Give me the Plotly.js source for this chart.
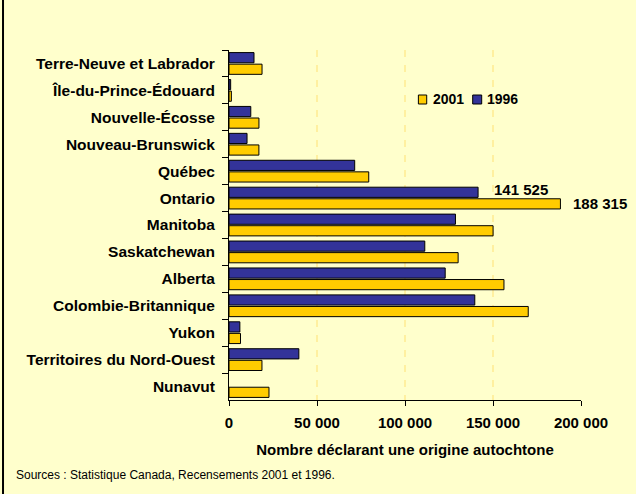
<!DOCTYPE html>
<html>
<head>
<meta charset="utf-8">
<script src="https://cdn.plot.ly/plotly-3.0.1.min.js"></script>
<style>
html,body{margin:0;padding:0;background:#FFFFCC;}
#chart{width:636px;height:494px;}
</style>
</head>
<body>
<div id="chart"></div>
<script>
var provinces = ["Terre-Neuve et Labrador","Île-du-Prince-Édouard","Nouvelle-Écosse","Nouveau-Brunswick","Québec","Ontario","Manitoba","Saskatchewan","Alberta","Colombie-Britannique","Yukon","Territoires du Nord-Ouest","Nunavut"];
var values2001 = [18775, 1345, 17010, 16990, 79400, 188315, 150045, 130185, 156225, 170025, 6540, 18730, 22720];
var values1996 = [14205, 950, 12380, 10250, 71415, 141525, 128680, 111245, 122840, 139655, 6175, 39690, null];
var seriesNames = ["1996", "2001"];
var seriesColors = ["#333399", "#FFCC00"];
var xTickVals = [0, 50000, 100000, 150000, 200000];
var xTickText = ["0", "50 000", "100 000", "150 000", "200 000"];
var labelTexts = ["141 525", "188 315"];
var labelValues = [141525, 188315];
var labelCategory = "Ontario";

var font = "Arial, 'Liberation Sans', sans-serif";

var traces = [
  {type:"bar", orientation:"h", name:seriesNames[0], y:provinces, x:values1996,
   marker:{color:seriesColors[0], line:{color:"#000000", width:1}}, hoverinfo:"none"},
  {type:"bar", orientation:"h", name:seriesNames[1], y:provinces, x:values2001,
   marker:{color:seriesColors[1], line:{color:"#000000", width:1}}, hoverinfo:"none"}
];

// custom compact legend (2001 first, then 1996), as in the reference
var legendBoxes = [
  {x0:0.538, x1:0.5617, color:seriesColors[1], tx:0.5745, label:seriesNames[1]},
  {x0:0.6923, x1:0.7179, color:seriesColors[0], tx:0.7285, label:seriesNames[0]}
];

var shapes = [
  {type:"line", xref:"paper", yref:"paper", x0:-0.642, x1:-0.642, y0:-0.27, y1:1.15,
   line:{color:"#000000", width:2}}
];
var annotations = [
  {x:labelValues[0], y:labelCategory, text:labelTexts[0], showarrow:false,
   xanchor:"left", yanchor:"middle", xshift:14, yshift:9,
   font:{family:font, size:15, color:"#000000", weight:"bold"}},
  {x:labelValues[1], y:labelCategory, text:labelTexts[1], showarrow:false,
   xanchor:"left", yanchor:"middle", xshift:11, yshift:-5,
   font:{family:font, size:15, color:"#000000", weight:"bold"}},
  {xref:"paper", yref:"paper", x:-0.61, y:-0.215, xanchor:"left", yanchor:"middle",
   text:"Sources : Statistique Canada, Recensements 2001 et 1996.", showarrow:false,
   font:{family:font, size:12, color:"#000000"}}
];
legendBoxes.forEach(function(b){
  shapes.push({type:"rect", xref:"paper", yref:"paper", x0:b.x0, x1:b.x1, y0:0.8457, y1:0.8714,
               fillcolor:b.color, line:{color:"#000000", width:1}});
  annotations.push({xref:"paper", yref:"paper", x:b.tx, y:0.8586, xanchor:"left", yanchor:"middle",
                    text:b.label, showarrow:false,
                    font:{family:font, size:14, color:"#000000", weight:"bold"}});
});

var layout = {
  width:636, height:494,
  margin:{l:229, r:55, t:50, b:94, pad:0},
  paper_bgcolor:"#FFFFCC", plot_bgcolor:"#FFFFCC",
  barmode:"group", bargap:0.14, bargroupgap:0.12,
  font:{family:font, color:"#000000"},
  showlegend:false,
  xaxis:{range:[0,200000], tickvals:xTickVals, ticktext:xTickText,
         showgrid:true, gridcolor:"#FFF0A0", gridwidth:2, griddash:"7px,8px",
         zeroline:false, showline:true, linecolor:"#000000", linewidth:1,
         ticks:"outside", ticklen:5, tickcolor:"#000000", ticklabelstandoff:4,
         tickfont:{family:font, size:15, color:"#000000", weight:"bold"},
         title:{text:"Nombre déclarant une origine autochtone", standoff:14,
                font:{family:font, size:15, color:"#000000", weight:"bold"}},
         fixedrange:true},
  yaxis:{type:"category", autorange:"reversed", showgrid:false, zeroline:false,
         showline:true, linecolor:"#000000", linewidth:1,
         ticks:"outside", ticklen:6, tickcolor:"#000000", tickson:"boundaries",
         ticklabelstandoff:10,
         tickfont:{family:font, size:15.5, color:"#000000", weight:"bold"},
         fixedrange:true},
  annotations:annotations,
  shapes:shapes
};

Plotly.newPlot("chart", traces, layout, {displayModeBar:false, staticPlot:true});
</script>
</body>
</html>
